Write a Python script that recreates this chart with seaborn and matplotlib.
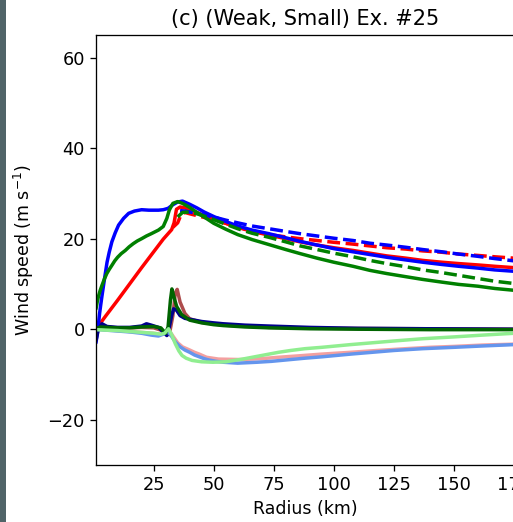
import matplotlib
matplotlib.use("Agg")
import matplotlib.pyplot as plt
import seaborn as sns
from matplotlib.patches import Rectangle

sns.set_style("ticks")
plt.rcParams["font.family"] = ["DejaVu Sans"]

# ---- tangential wind profiles (upper group) ----
r_blue = [1, 1.5, 2, 2.5, 3, 3.5, 4.5, 5.6, 6.5, 7.6, 9, 10.4, 12.5, 14.6, 17, 20, 23, 25, 27, 29, 31, 33, 35, 37,
          40, 43, 46, 50, 55, 60, 66, 73, 80, 86, 93, 100, 108, 115, 122, 130, 137, 145, 152, 160, 167, 175]
v_blue = [-3, -1, 1, 3.5, 5.5, 7.4, 11, 14.8, 17, 19.3, 21.3, 23, 24.5, 25.6, 26.1, 26.4, 26.3, 26.3, 26.3, 26.4, 26.7, 27.5, 28.1, 28.3,
          27.6, 26.8, 25.9, 24.9, 23.8, 22.8, 21.9, 21.1, 20.2, 19.4, 18.6, 17.8, 17.1, 16.5, 15.9, 15.3, 14.8, 14.3, 13.9, 13.5, 13.1, 12.8]

r_blue_ref = [36, 38, 40, 43, 46, 50, 55, 60, 66, 73, 80, 86, 93, 100, 108, 115, 122, 130, 137, 145, 152, 160, 167, 175]
v_blue_ref = [26.2, 26.1, 25.9, 25.6, 25.2, 24.8, 24.1, 23.5, 22.8, 22.2, 21.6, 21.1, 20.6, 20.1, 19.6, 19.0, 18.6, 18.1, 17.6, 17.1, 16.6, 16.1, 15.6, 15.1]

r_red = [1, 5, 10, 15, 20, 25, 29, 32.5, 33.5, 34.5, 36, 38, 40, 43, 46, 50, 55, 60, 66, 73, 80, 86, 93, 100,
         108, 115, 122, 130, 137, 145, 152, 160, 167, 175]
v_red = [0, 2.9, 6.4, 10, 13.6, 17.1, 19.9, 22, 23.5, 26.5, 27, 26.8, 26.4, 25.8, 25.1, 24.3, 23.4, 22.5, 21.6, 20.8, 20, 19.3, 18.6, 18.0,
         17.4, 16.8, 16.2, 15.7, 15.2, 14.8, 14.5, 14.2, 13.9, 13.6]

r_red_ref = [33, 34, 35, 36, 37, 38, 40, 43, 46, 50, 55, 60, 66, 73, 80, 86, 93, 100, 108, 115, 122, 130, 137, 145, 152, 160, 167, 175]
v_red_ref = [22.5, 23, 23.5, 24.8, 25.6, 25.8, 25.5, 25.1, 24.7, 24.2, 23.4, 22.6, 21.7, 20.9, 20.4, 20.0, 19.6, 19.2, 18.8, 18.4, 18.0, 17.7, 17.3, 17.0, 16.6, 16.3, 16.0, 15.7]

r_green = [1, 1.5, 2, 2.7, 3.5, 4.5, 5.5, 6.5, 7.6, 8.8, 10, 11.5, 13.2, 14.8, 16.5, 18.2, 20, 22, 24, 27, 29, 30.5, 31.5, 33, 35, 37,
           40, 43, 46, 50, 55, 60, 66, 73, 80, 86, 93, 100, 108, 115, 122, 130, 137, 145, 152, 160, 167, 175]
v_green = [4.5, 6, 7.2, 8.5, 9.7, 11.1, 12.3, 13.2, 14.1, 15.1, 15.9, 16.7, 17.4, 18.2, 18.9, 19.5, 20, 20.6, 21.1, 21.9, 22.7, 24.5, 26.3, 27.8, 28.2, 27.8,
           26.9, 25.8, 24.8, 23.4, 22.1, 20.9, 19.8, 18.7, 17.6, 16.7, 15.7, 14.8, 13.9, 13.0, 12.3, 11.6, 11.0, 10.4, 9.9, 9.5, 9.0, 8.6]

r_green_ref = [35, 37, 40, 43, 46, 50, 55, 60, 66, 73, 80, 86, 93, 100, 108, 115, 122, 130, 137, 145, 152, 160, 167, 175]
v_green_ref = [24.8, 25.8, 25.9, 25.5, 25.0, 24.2, 23.2, 22.2, 21.2, 20.3, 19.3, 18.4, 17.6, 16.8, 16.0, 15.2, 14.5, 13.8, 13.1, 12.5, 11.9, 11.2, 10.6, 10.1]

# ---- secondary profiles (lower group) ----
r_navy = [1, 2, 3.5, 5.6, 10, 15, 20, 22, 24, 27, 29, 30.5, 31.5, 32.5, 33.3, 34.5, 36, 38, 40, 45, 50, 54, 63, 73, 90, 110, 140, 175]
v_navy = [-2.5, 0, 1.2, 0.6, 0.4, 0.4, 0.7, 1.2, 0.9, 0.4, -0.6, -1.4, 0.5, 3.0, 4.5, 4.2, 3.0, 2.4, 2.2, 1.7, 1.4, 1.2, 0.9, 0.7, 0.4, 0.2, 0.1, 0.0]

r_dkred = [1, 3, 6, 10, 15, 20, 25, 28, 30, 31.5, 33, 34, 34.8, 36, 38, 40, 45, 54, 73, 100, 140, 175]
v_dkred = [0, 0.5, 0.4, 0.3, 0.3, 0.4, 0.3, -0.2, -0.8, -1.2, 3.0, 8.0, 8.8, 6.0, 3.5, 2.3, 1.5, 0.9, 0.4, 0.2, 0.1, 0.0]

r_dkgreen = [1, 3, 6, 10, 15, 20, 25, 28, 30, 31, 32, 32.6, 33.5, 34.6, 36.7, 40, 45, 50, 54, 63, 73, 90, 110, 140, 175]
v_dkgreen = [0.2, 0.5, 0.4, 0.3, 0.3, 0.5, 0.6, 0.3, -0.9, 0.5, 6.5, 8.9, 7.0, 5.0, 3.2, 2.0, 1.4, 1.0, 0.8, 0.5, 0.3, 0.1, 0.0, -0.1, -0.1]

r_ltred = [1, 5, 10, 15, 20, 25, 28, 30, 31.5, 33, 35, 37, 40, 42, 44, 47, 52, 61, 70, 77, 85, 95, 107, 118, 130, 140, 150, 162, 175]
v_ltred = [0, -0.1, -0.3, -0.5, -0.7, -0.9, -1.1, -0.8, -0.3, -1.5, -3.0, -3.9, -4.6, -5.1, -5.5, -6.2, -6.6, -6.7, -6.5, -6.2, -5.9, -5.5, -5.1, -4.7, -4.3, -4.0, -3.8, -3.5, -3.3]

r_ltblue = [1, 5, 10, 15, 20, 24, 27, 29, 30.5, 32, 34, 36, 38, 40, 42, 44, 46, 48, 51, 54, 60, 68, 74, 80, 88, 95, 101, 107,
            116, 125, 137, 150, 162, 175]
v_ltblue = [0, -0.2, -0.4, -0.6, -0.9, -1.3, -1.5, -1.1, -0.4, -1.2, -2.8, -3.9, -4.6, -5.1, -5.7, -6.1, -6.5, -6.8, -7.1, -7.3, -7.5, -7.3, -7.1, -6.8, -6.4, -6.1, -5.8, -5.5,
            -5.1, -4.7, -4.3, -4.0, -3.7, -3.4]

r_ltgreen = [1, 5, 10, 15, 20, 25, 28, 29.5, 31.2, 32.5, 34, 35.5, 36.8, 38.5, 41, 45, 49.7, 55, 62, 67, 72, 77, 82, 88, 95, 101, 107,
             116, 125, 137, 150, 162, 175]
v_ltgreen = [-0.1, -0.2, -0.3, -0.5, -0.7, -0.9, -1.1, -0.9, 0.1, -1.2, -3.2, -4.8, -5.8, -6.4, -6.9, -7.2, -7.3, -7.2, -6.6, -6.1, -5.6, -5.1, -4.7, -4.3, -4.0, -3.7, -3.4,
             -3.0, -2.6, -2.1, -1.7, -1.3, -0.9]

title = "(c) (Weak, Small) Ex. #25"
xlabel = "Radius (km)"
ylabel = "Wind speed (m s$^{-1}$)"
xticks = [25, 50, 75, 100, 125, 150, 175]
yticks = [-20, 0, 20, 40, 60]

W, H = 513, 522
fig = plt.figure(figsize=(W / 100, H / 100), dpi=100)
fig.patch.set_facecolor("white")
fig.patches.append(Rectangle((0, 0), 6 / W, 1, transform=fig.transFigure,
                             facecolor="#506468", edgecolor="none", zorder=0))

ax = fig.add_axes([96 / W, 57 / H, (514 - 96) / W, (465 - 35) / H])
lw = 2.5

series = [
    (r_red, v_red, "#ff0000", "-", 1.0),
    (r_red_ref, v_red_ref, "#ff0000", "--", 1.0),
    (r_dkred, v_dkred, "#8b0000", "-", 0.7),
    (r_ltred, v_ltred, "#f08080", "-", 0.75),
    (r_blue, v_blue, "#0000ff", "-", 1.0),
    (r_blue_ref, v_blue_ref, "#0000ff", "--", 1.0),
    (r_navy, v_navy, "#00008b", "-", 1.0),
    (r_ltblue, v_ltblue, "#6495ed", "-", 1.0),
    (r_green, v_green, "#008000", "-", 1.0),
    (r_green_ref, v_green_ref, "#008000", "--", 1.0),
    (r_dkgreen, v_dkgreen, "#006400", "-", 1.0),
    (r_ltgreen, v_ltgreen, "#90ee90", "-", 1.0),
]
for r, v, c, ls, a in series:
    sns.lineplot(x=r, y=v, ax=ax, color=c, linestyle=ls, linewidth=lw, alpha=a)

ax.set_xlim(1, 174.6)
ax.set_ylim(-30, 65)
ax.set_xticks(xticks)
ax.set_yticks(yticks)
ax.tick_params(labelsize=12.8, length=4.5, width=0.94, color="black", labelcolor="black")
for s in ax.spines.values():
    s.set_linewidth(0.94)
    s.set_color("black")
ax.spines["right"].set_visible(False)
ax.set_title(title, fontsize=15, pad=7, color="black")
ax.set_xlabel(xlabel, fontsize=12.5, color="black")
ax.set_ylabel(ylabel, fontsize=12.5, color="black")
ax.yaxis.set_label_coords(-0.143, 0.5)

fig.savefig("out.png", dpi=100)
